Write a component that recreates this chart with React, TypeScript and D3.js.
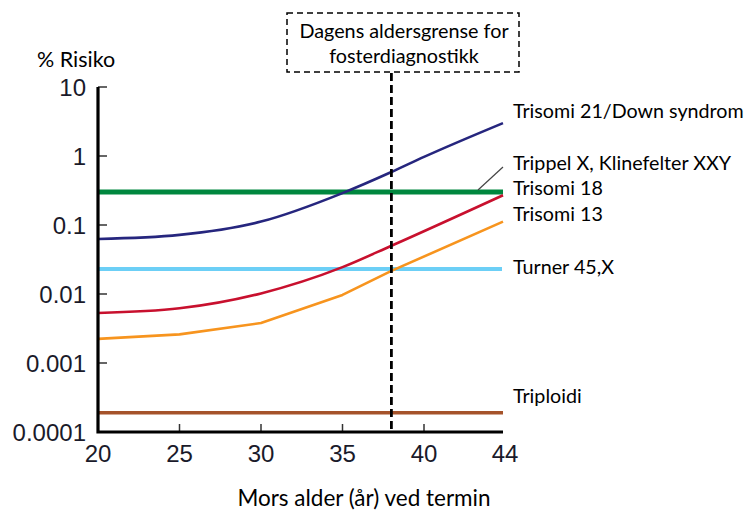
import React from "react";
import * as d3 from "d3";

const W = 746;
const H = 514;

const yTicks = [10, 1, 0.1, 0.01, 0.001, 0.0001];
const yTickLabels = ["10", "1", "0.1", "0.01", "0.001", "0.0001"];
const xTicks = [20, 25, 30, 35, 40];
const xTickLabels = ["20", "25", "30", "35", "40", "44"];

const trisomi21Ages = [20, 25, 30, 35, 38, 40, 44];
const trisomi21 = [0.0627, 0.072, 0.112, 0.29, 0.586, 0.97, 3.0];
const trisomi18Ages = [20, 25, 30, 35, 38, 44];
const trisomi18 = [0.0053, 0.0062, 0.0102, 0.0245, 0.05, 0.27];
const trisomi13Ages = [20, 25, 30, 35, 38, 44];
const trisomi13 = [0.00224, 0.0026, 0.0038, 0.0097, 0.0216, 0.112];
const trippelX = 0.3;
const turner = 0.023;
const triploidi = 0.00019;
const cutoffAge = 38;

const labels = [
  { text: "Trisomi 21/Down syndrom", y: 118 },
  { text: "Trippel X, Klinefelter XXY", y: 170 },
  { text: "Trisomi 18", y: 195 },
  { text: "Trisomi 13", y: 221 },
  { text: "Turner 45,X", y: 274 },
  { text: "Triploidi", y: 403 },
];

export default function App() {
  const x = d3.scaleLinear().domain([20, 40, 44]).range([98, 424, 503]);
  const y = d3.scaleLog().domain([0.0001, 10]).range([432, 87]);
  const xEnd = x(44);

  const mk = (ages: number[], vals: number[], curve: any) =>
    d3
      .line<number>()
      .x((_, i) => x(ages[i]))
      .y((d) => y(d))
      .curve(curve)(vals) || "";

  const tickFont = "'Liberation Sans', Arial, sans-serif";
  const labelFont = "Lato, 'Open Sans', sans-serif";

  return (
    <svg width={W} height={H} style={{ position: "absolute", left: 0, top: 0, background: "#fff" }}>
      <rect width={W} height={H} fill="#fff" />
      {/* flat lines */}
      <line x1={x(20)} x2={xEnd} y1={y(triploidi)} y2={y(triploidi)} stroke="#a5532a" strokeWidth={3.5} />
      <line x1={x(20)} x2={xEnd - 1} y1={y(turner)} y2={y(turner)} stroke="#6ccff6" strokeWidth={4} />
      <line x1={x(20)} x2={xEnd} y1={y(trippelX)} y2={y(trippelX)} stroke="#00873e" strokeWidth={5} />
      {/* curves */}
      <path d={mk(trisomi13Ages, trisomi13, d3.curveLinear)} fill="none" stroke="#f7941e" strokeWidth={2.6} strokeLinejoin="round" />
      <path d={mk(trisomi18Ages, trisomi18, d3.curveMonotoneX)} fill="none" stroke="#c8102e" strokeWidth={2.6} />
      <path d={mk(trisomi21Ages, trisomi21, d3.curveMonotoneX)} fill="none" stroke="#26267e" strokeWidth={2.6} />

      {/* cutoff dashed line */}
      <line
        x1={x(cutoffAge)}
        x2={x(cutoffAge)}
        y1={73}
        y2={431}
        stroke="#000"
        strokeWidth={2.8}
        strokeDasharray="8,4"
      />
      <rect x={287} y={13} width={232} height={59} fill="#fff" stroke="#000" strokeWidth={1.5} strokeDasharray="6,4" />
      <text x={404} y={38} textAnchor="middle" fontFamily={labelFont} fontSize={19.8} fill="#000">
        Dagens aldersgrense for
      </text>
      <text x={404} y={63} textAnchor="middle" fontFamily={labelFont} fontSize={19.8} fill="#000">
        fosterdiagnostikk
      </text>

      {/* leader line */}
      <line x1={478} y1={190} x2={503} y2={167} stroke="#444" strokeWidth={1.2} />

      {/* axes */}
      {yTicks.map((t, i) => (
        <g key={"y" + i}>
          <line x1={98} x2={107} y1={y(t)} y2={y(t)} stroke="#333" strokeWidth={1.5} />
          <text
            x={86}
            y={y(t)}
            dy="0.36em"
            textAnchor="end"
            fontFamily={tickFont}
            fontSize={24}
            fill="#1a1a2a"
          >
            {yTickLabels[i]}
          </text>
        </g>
      ))}
      {xTicks.map((t, i) => (
        <line key={"xt" + i} x1={x(t)} x2={x(t)} y1={432} y2={424} stroke="#333" strokeWidth={1.5} />
      ))}
      {[...xTicks, 44].map((t, i) => (
        <text
          key={"xl" + i}
          x={i === 5 ? xEnd + 2 : x(t)}
          y={462}
          textAnchor="middle"
          fontFamily={tickFont}
          fontSize={24}
          fill="#1a1a2a"
        >
          {xTickLabels[i]}
        </text>
      ))}
      <path d={`M98,87V432H${xEnd}`} fill="none" stroke="#000" strokeWidth={3.2} />

      {/* series labels */}
      {labels.map((l, i) => (
        <text key={"l" + i} x={513} y={l.y} fontFamily={labelFont} fontSize={19.7} fill="#000">
          {l.text}
        </text>
      ))}

      <text x={37} y={67} fontFamily={labelFont} fontSize={21.5} fill="#000">
        % Risiko
      </text>
      <text x={364} y={506} textAnchor="middle" fontFamily={labelFont} fontSize={22.5} fill="#000">
        Mors alder (år) ved termin
      </text>
    </svg>
  );
}
